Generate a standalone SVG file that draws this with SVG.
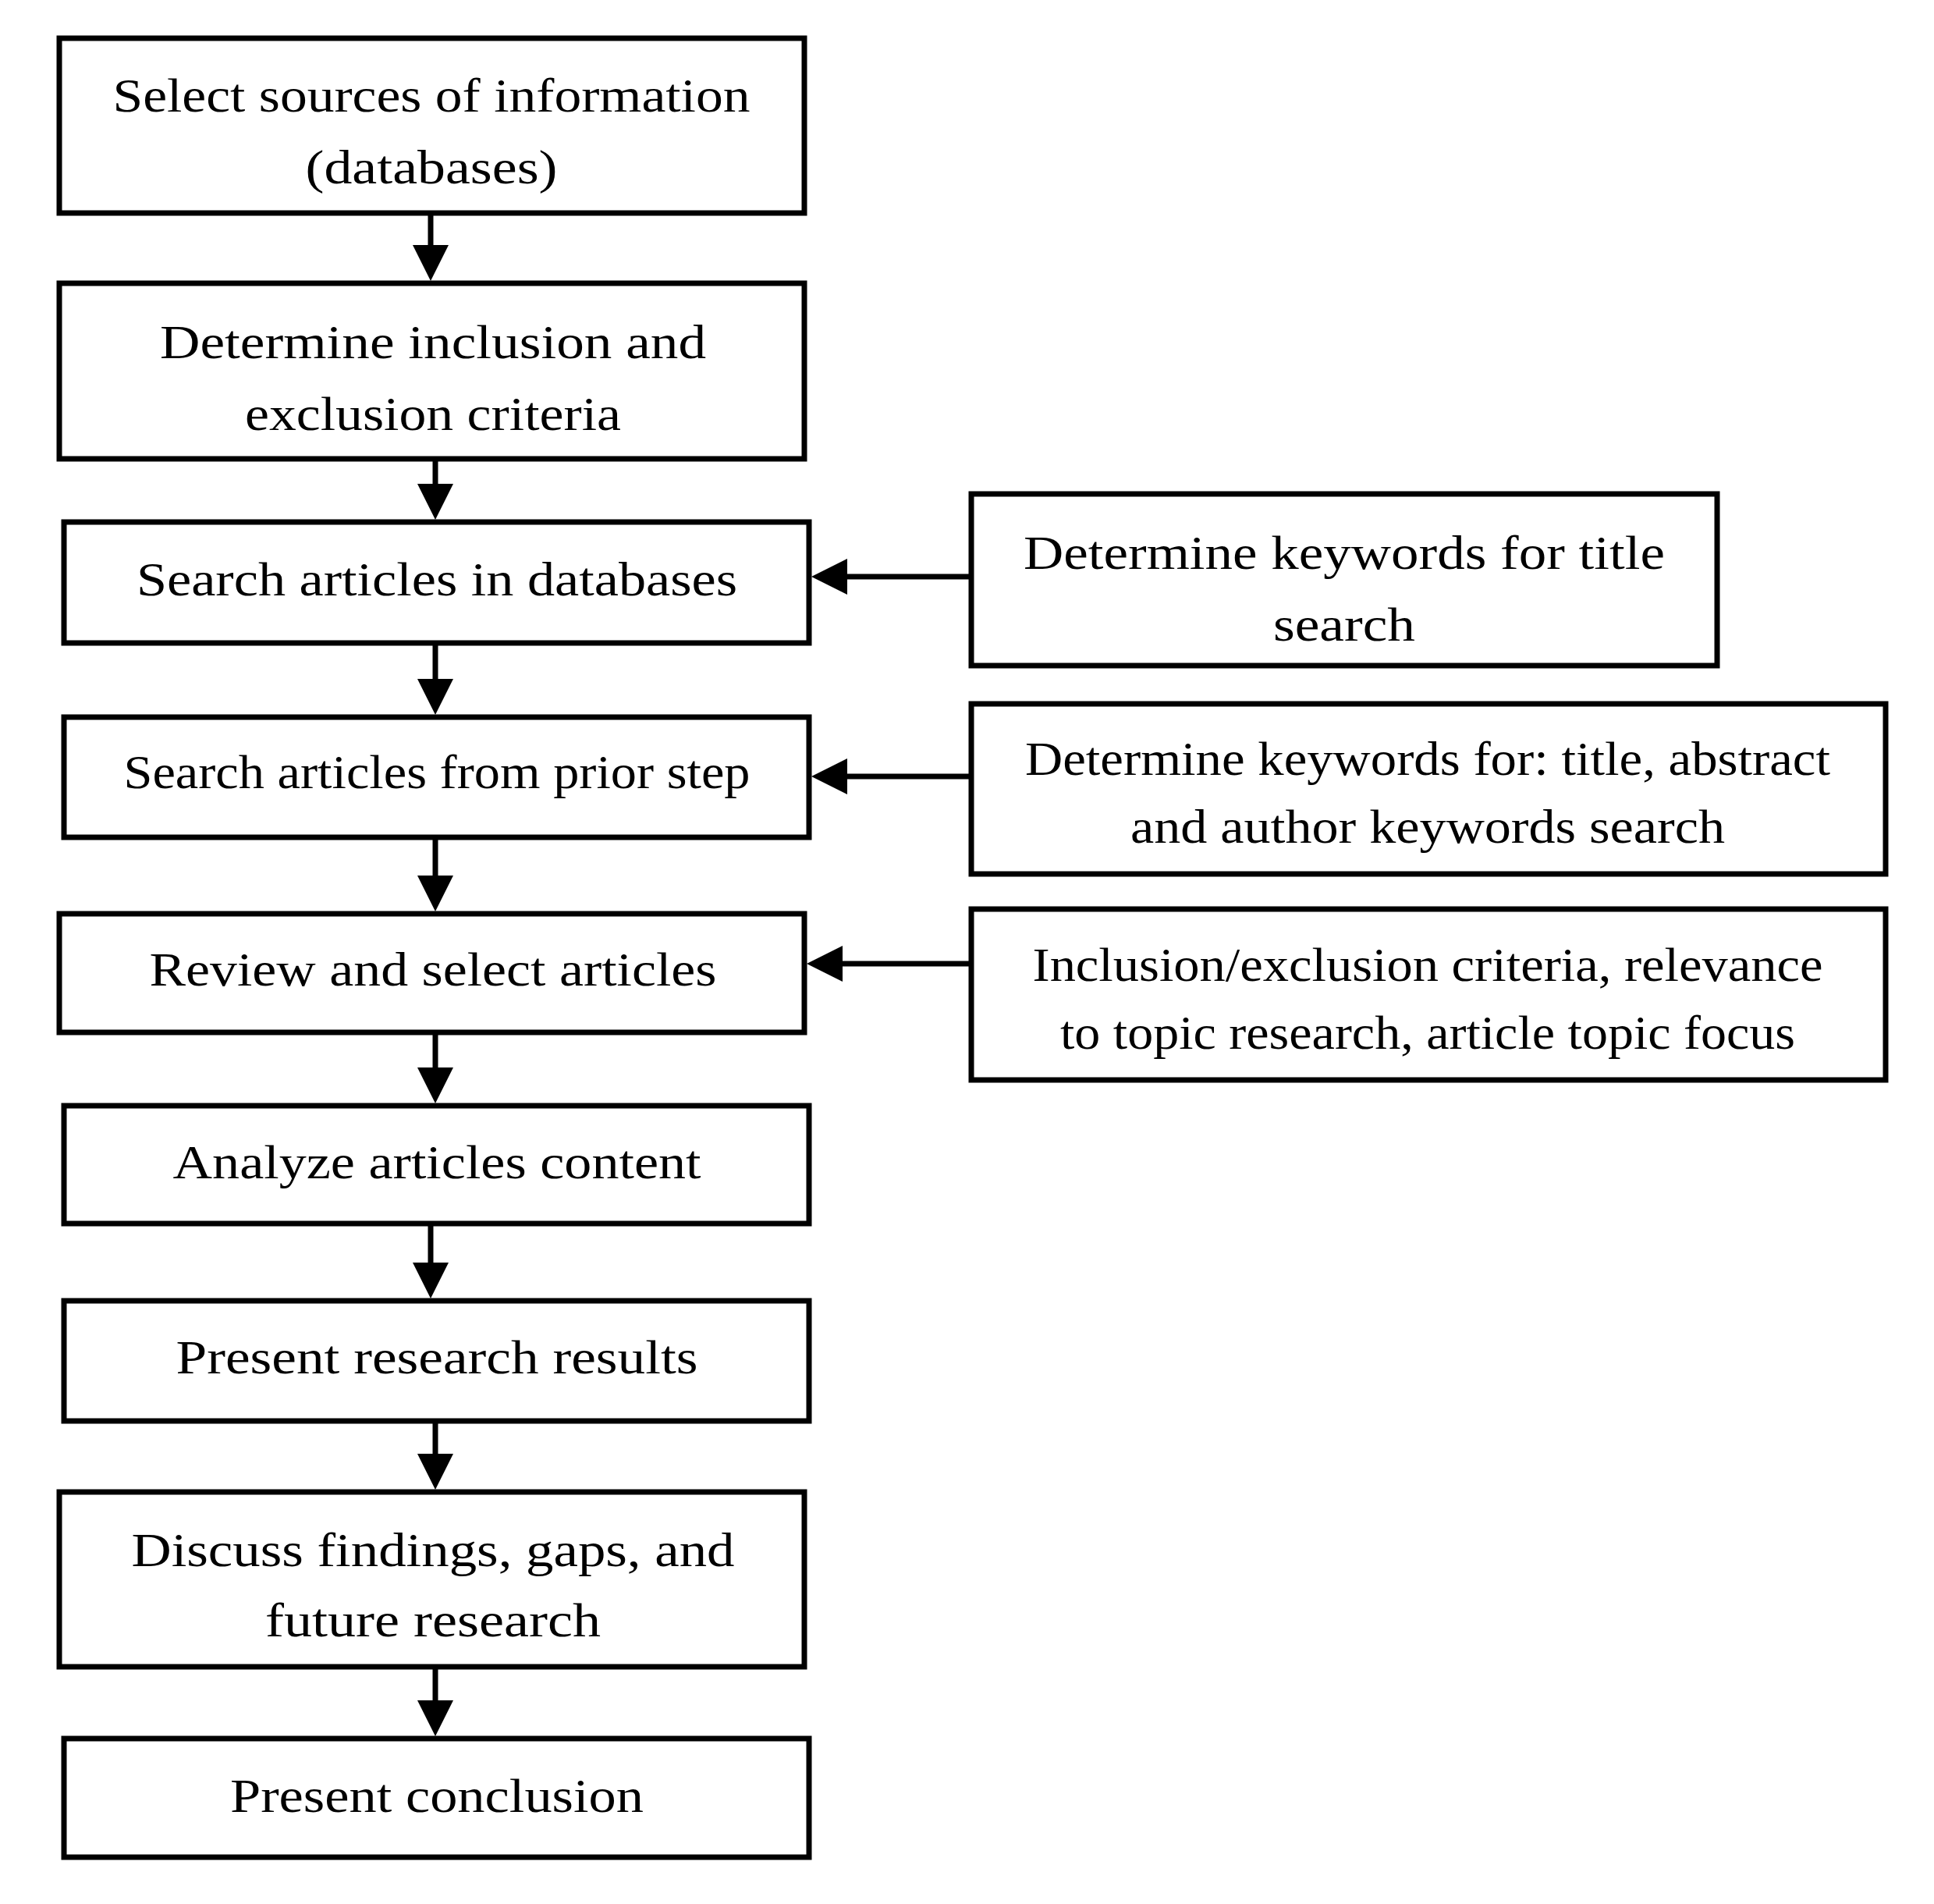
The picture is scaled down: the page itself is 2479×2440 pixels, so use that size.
<svg xmlns="http://www.w3.org/2000/svg" width="2479" height="2440" viewBox="0 0 2479 2440">
<style>
.box{fill:#fff;stroke:#000;stroke-width:7}
.t{font-family:"Liberation Serif","Times New Roman",serif;font-size:62px;fill:#000;text-anchor:middle}
.c{stroke:#000;stroke-width:7;fill:none;marker-end:url(#ah)}
</style>
<defs>
<marker id="ah" markerUnits="userSpaceOnUse" viewBox="0 0 46 46" refX="26" refY="23" markerWidth="46" markerHeight="46" orient="auto">
<path d="M0,0 L46,23 L0,46 z" fill="#000"/>
</marker>
</defs>
<rect width="2479" height="2440" fill="#fff"/>
<g id="connectors">
<line class="c" x1="552" y1="276" x2="552" y2="340"/>
<line class="c" x1="558" y1="591" x2="558" y2="646"/>
<line class="c" x1="558" y1="827" x2="558" y2="896"/>
<line class="c" x1="558" y1="1076" x2="558" y2="1148"/>
<line class="c" x1="558" y1="1326" x2="558" y2="1394"/>
<line class="c" x1="552" y1="1571" x2="552" y2="1644"/>
<line class="c" x1="558" y1="1824" x2="558" y2="1889"/>
<line class="c" x1="558" y1="2139" x2="558" y2="2205"/>
<line class="c" x1="1242" y1="739" x2="1060" y2="739"/>
<line class="c" x1="1242" y1="995" x2="1060" y2="995"/>
<line class="c" x1="1242" y1="1235" x2="1054" y2="1235"/>
</g>
<g id="n1"><rect class="box" x="76" y="49" width="955" height="224"/>
<text class="t" x="553" y="143" textLength="817" lengthAdjust="spacingAndGlyphs">Select sources of information</text>
<text class="t" x="553" y="235" textLength="323" lengthAdjust="spacingAndGlyphs">(databases)</text></g>
<g id="n2"><rect class="box" x="76" y="363" width="955" height="225"/>
<text class="t" x="555" y="459" textLength="700" lengthAdjust="spacingAndGlyphs">Determine inclusion and</text>
<text class="t" x="555" y="551" textLength="482" lengthAdjust="spacingAndGlyphs">exclusion criteria</text></g>
<g id="n3"><rect class="box" x="82" y="669" width="955" height="155"/>
<text class="t" x="560" y="763" textLength="770" lengthAdjust="spacingAndGlyphs">Search articles in databases</text></g>
<g id="n4"><rect class="box" x="82" y="919" width="955" height="154"/>
<text class="t" x="560" y="1010" textLength="803" lengthAdjust="spacingAndGlyphs">Search articles from prior step</text></g>
<g id="n5"><rect class="box" x="76" y="1171" width="955" height="152"/>
<text class="t" x="555" y="1263" textLength="727" lengthAdjust="spacingAndGlyphs">Review and select articles</text></g>
<g id="n6"><rect class="box" x="82" y="1417" width="955" height="151"/>
<text class="t" x="560" y="1510" textLength="677" lengthAdjust="spacingAndGlyphs">Analyze articles content</text></g>
<g id="n7"><rect class="box" x="82" y="1667" width="955" height="154"/>
<text class="t" x="560" y="1760" textLength="669" lengthAdjust="spacingAndGlyphs">Present research results</text></g>
<g id="n8"><rect class="box" x="76" y="1912" width="955" height="224"/>
<text class="t" x="555" y="2007" textLength="773" lengthAdjust="spacingAndGlyphs">Discuss findings, gaps, and</text>
<text class="t" x="555" y="2097" textLength="430" lengthAdjust="spacingAndGlyphs">future research</text></g>
<g id="n9"><rect class="box" x="82" y="2228" width="955" height="152"/>
<text class="t" x="560" y="2322" textLength="530" lengthAdjust="spacingAndGlyphs">Present conclusion</text></g>
<g id="r1"><rect class="box" x="1245" y="633" width="956" height="220"/>
<text class="t" x="1723" y="729" textLength="822" lengthAdjust="spacingAndGlyphs">Determine keywords for title</text>
<text class="t" x="1723" y="821" textLength="182" lengthAdjust="spacingAndGlyphs">search</text></g>
<g id="r2"><rect class="box" x="1245" y="902" width="1172" height="218"/>
<text class="t" x="1830" y="993" textLength="1032" lengthAdjust="spacingAndGlyphs">Determine keywords for: title, abstract</text>
<text class="t" x="1830" y="1080" textLength="762" lengthAdjust="spacingAndGlyphs">and author keywords search</text></g>
<g id="r3"><rect class="box" x="1245" y="1165" width="1172" height="219"/>
<text class="t" x="1830" y="1257" textLength="1013" lengthAdjust="spacingAndGlyphs">Inclusion/exclusion criteria, relevance</text>
<text class="t" x="1830" y="1344" textLength="942" lengthAdjust="spacingAndGlyphs">to topic research, article topic focus</text></g>
</svg>
